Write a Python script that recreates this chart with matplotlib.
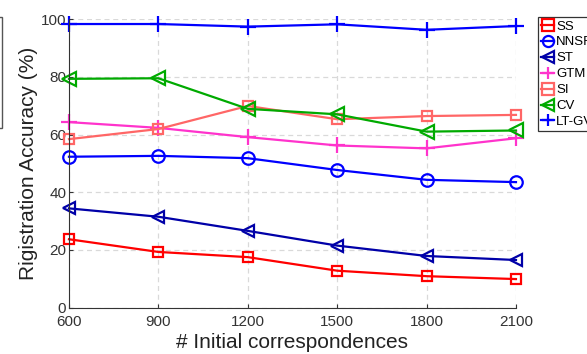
import matplotlib.pyplot as plt
from matplotlib.patches import Rectangle

plt.rcParams["font.family"] = ["Liberation Sans", "DejaVu Sans"]

correspondences = [600, 900, 1200, 1500, 1800, 2100]

ss = [23.7, 19.3, 17.5, 12.8, 10.9, 9.9]
nnsr = [52.3, 52.6, 51.8, 47.7, 44.3, 43.5]
st = [34.4, 31.5, 26.6, 21.5, 17.9, 16.5]
gtm = [64.3, 62.3, 59.1, 56.2, 55.2, 58.7]
si = [58.4, 61.9, 69.9, 65.3, 66.4, 66.8]
cv = [79.3, 79.5, 68.9, 67.0, 61.0, 61.4]
lt_gv = [98.3, 98.3, 97.4, 98.2, 96.3, 97.6]

methods = ["SS", "NNSR", "ST", "GTM", "SI", "CV", "LT-GV"]
series = [ss, nnsr, st, gtm, si, cv, lt_gv]
styles = [
    ("#ff0000", "s", 7),
    ("#0000ff", "o", 9),
    ("#0000a8", "<", 9),
    ("#ff33cc", "+", 11),
    ("#ff6666", "s", 7),
    ("#00aa00", "<", 10),
    ("#0000ff", "+", 12),
]

fig = plt.figure(figsize=(5.87, 3.54), dpi=100)
ax = fig.add_axes([0.1175, 0.131, 0.7615, 0.815])

for name, values, (color, marker, size) in zip(methods, series, styles):
    ax.plot(correspondences, values, color=color, marker=marker, markersize=size,
            markerfacecolor="none", markeredgewidth=1.6, linewidth=1.6,
            label=name, clip_on=False)

ax.set_xlim(600, 2100)
ax.set_ylim(0, 100)
ax.set_xticks(correspondences)
ax.set_yticks([0, 20, 40, 60, 80, 100])
ax.tick_params(direction="in", length=3, labelsize=11, colors="#333333")
ax.tick_params(axis="x", pad=5)
ax.tick_params(axis="y", pad=2)
ax.grid(True, linestyle=(0, (4, 3)), color="#d9d9d9", linewidth=0.9)
ax.set_axisbelow(True)
for side in ("top", "right"):
    ax.spines[side].set_visible(False)
for side in ("left", "bottom"):
    ax.spines[side].set_color("#333333")

ax.set_xlabel("# Initial correspondences", fontsize=15, color="#222222", labelpad=3)
ax.set_ylabel("Rigistration Accuracy (%)", fontsize=15, color="#222222", labelpad=2)

leg = ax.legend(loc="upper left", bbox_to_anchor=(0.916, 0.952), bbox_transform=fig.transFigure,
                fontsize=9.5, handlelength=1.0, handletextpad=0.15, borderpad=0.25,
                labelspacing=0.28, borderaxespad=0, fancybox=False, framealpha=1)
leg.get_frame().set_edgecolor("#333333")
leg.get_frame().set_linewidth(0.9)
for line in leg.get_lines():
    line.set_markersize(8)

# edge of a neighbouring legend box at the left border
fig.patches.append(Rectangle((-0.1, 0.638), 0.103, 0.314, transform=fig.transFigure,
                             fill=False, edgecolor="#555555", linewidth=1.0))

fig.savefig("out.png", dpi=100)
